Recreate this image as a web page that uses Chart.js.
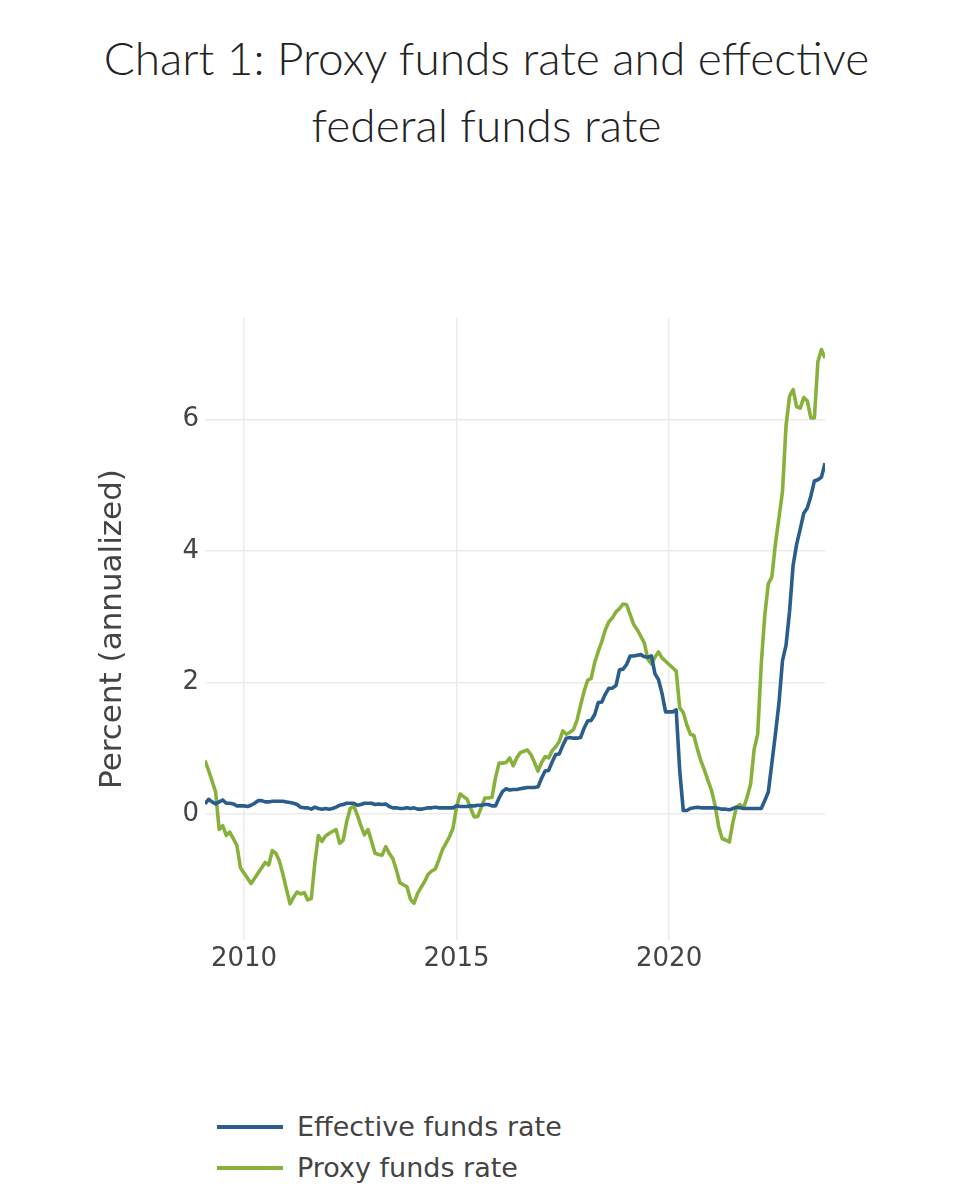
<!DOCTYPE html>
<html>
<head>
<meta charset="utf-8">
<script src="https://cdn.jsdelivr.net/npm/chart.js@4.4.1/dist/chart.umd.min.js"></script>
<style>
  body { margin: 0; background: #fff; }
  #wrap { position: relative; width: 973px; height: 1200px; }
  #title { position: absolute; left: 0; top: 24px; width: 973px; text-align: center;
           font-family: Lato, sans-serif; font-weight: 300; font-size: 46px; line-height: 67px; color: #222; }
  #chartBox { position: absolute; left: 0; top: 0; width: 973px; height: 1000px; }
  #legend { position: absolute; left: 217px; top: 1106px; font-family: "DejaVu Sans", sans-serif; font-size: 27px; color: #444; }
  #legend .item { display: flex; align-items: center; height: 41px; }
  #legend .swatch { width: 66px; height: 4px; margin-right: 14px; }
</style>
</head>
<body>
<div id="wrap">
  <div id="title">Chart 1: Proxy funds rate and effective<br>federal funds rate</div>
  <div id="chartBox"><canvas id="fundsChart"></canvas></div>
  <div id="legend"></div>
</div>
<script>
// monthly series, Jan 2009 .. Aug 2023
const startYear = 2009;
const startMonth = 1;

const effectiveRate = [
  0.15, 0.22, 0.18, 0.15, 0.18, 0.21, 0.16, 0.16, 0.15, 0.12, 0.12, 0.12,
  0.11, 0.13, 0.16, 0.20, 0.20, 0.18, 0.18, 0.19, 0.19, 0.19, 0.19, 0.18,
  0.17, 0.16, 0.14, 0.10, 0.09, 0.09, 0.07, 0.10, 0.08, 0.07, 0.08, 0.07,
  0.08, 0.10, 0.13, 0.14, 0.16, 0.16, 0.16, 0.13, 0.14, 0.16, 0.16, 0.16,
  0.14, 0.15, 0.14, 0.15, 0.11, 0.09, 0.09, 0.08, 0.08, 0.09, 0.08, 0.09,
  0.07, 0.07, 0.08, 0.09, 0.09, 0.10, 0.09, 0.09, 0.09, 0.09, 0.09, 0.12,
  0.11, 0.11, 0.11, 0.12, 0.12, 0.13, 0.13, 0.14, 0.14, 0.12, 0.12, 0.24,
  0.34, 0.38, 0.36, 0.37, 0.37, 0.38, 0.39, 0.40, 0.40, 0.40, 0.41, 0.54,
  0.65, 0.66, 0.79, 0.90, 0.91, 1.04, 1.15, 1.16, 1.15, 1.15, 1.16, 1.30,
  1.41, 1.42, 1.51, 1.69, 1.70, 1.82, 1.91, 1.91, 1.95, 2.19, 2.20, 2.27,
  2.40, 2.40, 2.41, 2.42, 2.39, 2.38, 2.40, 2.13, 2.04, 1.83, 1.55, 1.55,
  1.55, 1.58, 0.65, 0.05, 0.05, 0.08, 0.09, 0.10, 0.09, 0.09, 0.09, 0.09,
  0.09, 0.08, 0.07, 0.07, 0.06, 0.08, 0.10, 0.09, 0.08, 0.08, 0.08, 0.08,
  0.08, 0.08, 0.20, 0.33, 0.77, 1.21, 1.68, 2.33, 2.56, 3.08, 3.78, 4.10,
  4.33, 4.57, 4.65, 4.83, 5.06, 5.08, 5.12, 5.33
];

const proxyRate = [
  0.81, 0.66, 0.50, 0.33, -0.24, -0.18, -0.33, -0.28, -0.38, -0.48, -0.82, -0.90,
  -0.98, -1.06, -0.98, -0.90, -0.82, -0.74, -0.78, -0.56, -0.60, -0.72, -0.92, -1.15,
  -1.37, -1.27, -1.19, -1.22, -1.20, -1.31, -1.29, -0.75, -0.33, -0.42, -0.34, -0.30,
  -0.27, -0.24, -0.45, -0.40, -0.12, 0.08, 0.12, -0.02, -0.18, -0.32, -0.24, -0.42,
  -0.60, -0.62, -0.63, -0.50, -0.60, -0.68, -0.85, -1.05, -1.08, -1.11, -1.30, -1.36,
  -1.21, -1.12, -1.03, -0.92, -0.87, -0.84, -0.70, -0.55, -0.45, -0.35, -0.22, 0.10,
  0.30, 0.26, 0.22, 0.08, -0.05, -0.04, 0.10, 0.24, 0.24, 0.25, 0.55, 0.77,
  0.77, 0.78, 0.85, 0.73, 0.85, 0.93, 0.95, 0.97, 0.90, 0.78, 0.65, 0.78,
  0.87, 0.85, 0.96, 1.02, 1.10, 1.26, 1.21, 1.24, 1.28, 1.42, 1.65, 1.86,
  2.03, 2.06, 2.30, 2.47, 2.62, 2.80, 2.92, 2.98, 3.07, 3.12, 3.19, 3.18,
  3.03, 2.88, 2.80, 2.70, 2.60, 2.35, 2.28, 2.38, 2.46, 2.37, 2.32, 2.27,
  2.22, 2.17, 1.61, 1.54, 1.35, 1.21, 1.19, 0.98, 0.80, 0.66, 0.50, 0.35,
  0.12, -0.20, -0.38, -0.40, -0.43, -0.13, 0.10, 0.14, 0.09, 0.25, 0.45, 0.98,
  1.21, 2.27, 3.02, 3.50, 3.60, 4.10, 4.50, 4.90, 5.90, 6.35, 6.45, 6.19,
  6.17, 6.33, 6.28, 6.02, 6.02, 6.88, 7.06, 6.93
];

const yTicks = [0, 2, 4, 6];
const xTicks = [2010, 2015, 2020];

const seriesNames = ['Effective funds rate', 'Proxy funds rate'];
const seriesColors = ['#2b5d8c', '#88b13c'];

// month index -> decimal year (values sit at month end)
function monthToYear(i) {
    const m = startMonth - 1 + i;
    return startYear + Math.floor(m / 12) + ((m % 12) + 1) / 12;
}

function toPoints(values) {
    return values.map((v, i) => ({ x: monthToYear(i), y: v }));
}

const fontFamily = '"DejaVu Sans", sans-serif';
const tickColor = '#444';
const gridColor = '#ebebeb';

const ctx = document.getElementById('fundsChart').getContext('2d');
const fundsChart = new Chart(ctx, {
    type: 'line',
    data: {
        datasets: [
            { label: seriesNames[0], data: toPoints(effectiveRate), borderColor: seriesColors[0] },
            { label: seriesNames[1], data: toPoints(proxyRate), borderColor: seriesColors[1] }
        ]
    },
    options: {
        responsive: true,
        maintainAspectRatio: false,
        animation: false,
        layout: { padding: { left: 0, right: 148, top: 318, bottom: 0 } },
        elements: {
            point: { radius: 0 },
            line: { borderWidth: 3.6, tension: 0, borderJoinStyle: 'round' }
        },
        plugins: {
            legend: { display: false },
            tooltip: { enabled: false }
        },
        scales: {
            x: {
                type: 'linear',
                min: monthToYear(0),
                max: monthToYear(effectiveRate.length - 1),
                afterBuildTicks: scale => { scale.ticks = xTicks.map(v => ({ value: v })); },
                afterFit: scale => { scale.height = 60; },
                grid: { color: gridColor, lineWidth: 1.5, drawTicks: false },
                border: { display: false },
                ticks: { color: tickColor, padding: 4, font: { family: fontFamily, size: 26 }, maxRotation: 0, callback: v => String(v) }
            },
            y: {
                min: -1.92,
                max: 7.54,
                afterBuildTicks: scale => { scale.ticks = yTicks.map(v => ({ value: v })); },
                afterFit: scale => { scale.width = 205; },
                grid: { color: gridColor, lineWidth: 1.5, drawTicks: false },
                border: { display: false },
                ticks: { color: tickColor, padding: 6, font: { family: fontFamily, size: 26 } },
                title: {
                    display: true,
                    text: 'Percent (annualized)',
                    color: tickColor,
                    font: { family: fontFamily, size: 31 },
                    padding: { top: 94, bottom: 0 }
                }
            }
        }
    }
});

// two-row legend under the plot, like the original
const legendEl = document.getElementById('legend');
fundsChart.data.datasets.forEach(ds => {
    const item = document.createElement('div');
    item.className = 'item';
    const swatch = document.createElement('span');
    swatch.className = 'swatch';
    swatch.style.background = ds.borderColor;
    const label = document.createElement('span');
    label.textContent = ds.label;
    item.appendChild(swatch);
    item.appendChild(label);
    legendEl.appendChild(item);
});
</script>
</body>
</html>
